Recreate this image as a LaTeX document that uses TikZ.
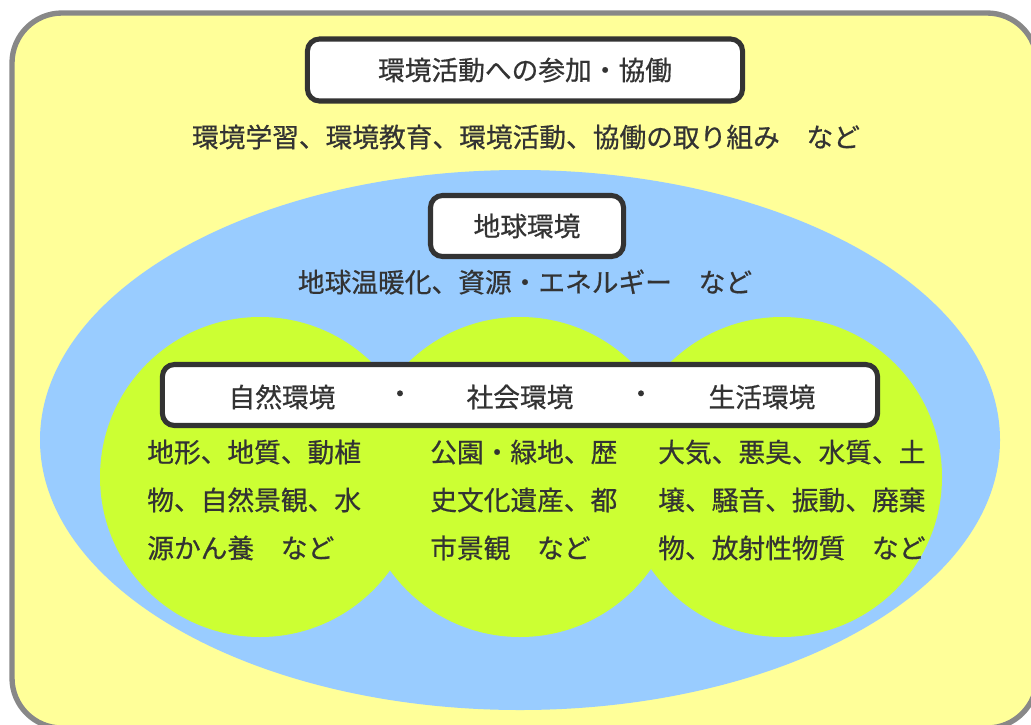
\documentclass[tikz,border=0pt]{standalone}
\usepackage{fontspec}
\setmainfont{Noto Sans CJK JP}[FakeBold=0.6]
\usetikzlibrary{calc}
\definecolor{bgyellow}{HTML}{FFFF99}
\definecolor{skyblue}{HTML}{99CCFF}
\definecolor{limegreen}{HTML}{CCFF33}
\definecolor{framegray}{HTML}{888888}
\definecolor{inkgray}{HTML}{333333}
\tikzset{
	labelbox/.style={draw=inkgray, fill=white, line width=3.6pt, rounded corners=0.3cm, inner sep=0pt},
	jtext/.style={text=inkgray, inner sep=0pt, font=\fontsize{19}{34.1}\selectfont},
	blocktext/.style={jtext, align=left, anchor=west}
}
\begin{document}
\begin{tikzpicture}[x=0.025cm, y=-0.025cm]
		%%%%% START %%%%%
		\useasboundingbox (0, 0) rectangle (1031, 724);
		\clip (0, 0) rectangle (1031, 724);
		
		\draw[fill=bgyellow, draw=framegray, line width=3.8pt, rounded corners=1.25cm] (12, 13) rectangle (1037, 728);
		
		\fill[skyblue] (520, 440) ellipse (480 and 270);
		
		\fill[limegreen] (260, 477) circle (160);
		\fill[limegreen] (520, 477) circle (160);
		\fill[limegreen] (782, 477) circle (160);
		
		\node[labelbox, minimum width=10.875cm, minimum height=1.55cm] (kyodo) at (525, 70) {};
		\node[jtext] (kyodolabel) at (kyodo.center) {環境活動への参加・協働};
		\node[jtext] (kyodotext) at (526, 137) {環境学習、環境教育、環境活動、協働の取り組み　など};
		
		\node[labelbox, minimum width=4.825cm, minimum height=1.525cm] (chikyu) at (527, 226) {};
		\node[jtext] (chikyulabel) at (chikyu.center) {地球環境};
		\node[jtext] (chikyutext) at (525, 282) {地球温暖化、資源・エネルギー　など};
		
		\node[labelbox, minimum width=17.875cm, minimum height=1.525cm] (kankyo) at (520, 395) {};
		\node[jtext] (shizen) at (282, 397) {自然環境};
		\node[jtext] (dotleft) at (400, 397) {・};
		\node[jtext] (shakai) at (520, 397) {社会環境};
		\node[jtext] (dotright) at (641, 397) {・};
		\node[jtext] (seikatsu) at (762, 397) {生活環境};
		
		\node[blocktext] (shizentext) at (147, 500) {地形、地質、動植\\物、自然景観、水\\源かん養　など};
		\node[blocktext] (shakaitext) at (430, 500) {公園・緑地、歴\\史文化遺産、都\\市景観　など};
		\node[blocktext] (seikatsutext) at (658, 500) {大気、悪臭、水質、土\\壌、騒音、振動、廃棄\\物、放射性物質　など};
		
		%%%%% END %%%%%
\end{tikzpicture}
\end{document}
